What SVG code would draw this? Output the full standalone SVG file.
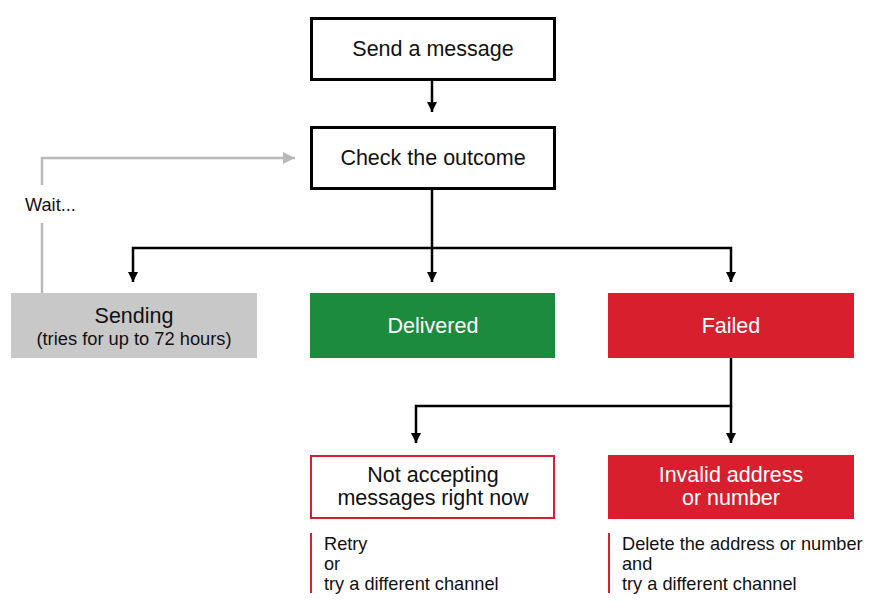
<svg xmlns="http://www.w3.org/2000/svg" width="873" height="603" viewBox="0 0 873 603">
<defs>
<marker id="ah" markerWidth="10" markerHeight="10" viewBox="0 0 10 10" refX="10" refY="5" orient="auto" markerUnits="userSpaceOnUse">
<path d="M0,0 L10,5 L0,10 z" fill="#000"/>
</marker>
<marker id="ahg" markerWidth="12" markerHeight="12" viewBox="0 0 10 10" refX="10" refY="5" orient="auto" markerUnits="userSpaceOnUse">
<path d="M0,0 L10,5 L0,10 z" fill="#b9b9b9"/>
</marker>
</defs>
<style>
text{font-family:"Liberation Sans",Arial,Helvetica,sans-serif;}
.lbl{font-size:21.5px;text-anchor:middle;fill:#111;}
.wl{font-size:21.5px;text-anchor:middle;fill:#fff;}
.sm{font-size:18.3px;text-anchor:middle;fill:#111;}
.note{font-size:18.2px;fill:#111;}
.conn{fill:none;stroke:#000;stroke-width:2.5;}
.gconn{fill:none;stroke:#b9b9b9;stroke-width:2.5;}
</style>
<rect width="873" height="603" fill="#fff"/>
<g id="connectors">
<line class="conn" x1="432" y1="80" x2="432" y2="112" marker-end="url(#ah)"/>
<path class="conn" d="M432,189 V248 H133 V282" marker-end="url(#ah)"/>
<line class="conn" x1="432" y1="248" x2="432" y2="282" marker-end="url(#ah)"/>
<path class="conn" d="M432,248 H731 V282" marker-end="url(#ah)"/>
<path class="conn" d="M731,358 V406 H416 V443" marker-end="url(#ah)"/>
<line class="conn" x1="731" y1="406" x2="731" y2="443" marker-end="url(#ah)"/>
<path class="gconn" d="M42,293 V223"/>
<path class="gconn" d="M42,185 V158 H295" marker-end="url(#ahg)"/>
<text x="25" y="211" class="note">Wait...</text>
</g>
<g id="send">
<rect x="311.5" y="18.5" width="243" height="61" fill="#fff" stroke="#000" stroke-width="3"/>
<text x="433" y="56" class="lbl">Send a message</text>
</g>
<g id="check">
<rect x="311.5" y="127.5" width="243" height="61" fill="#fff" stroke="#000" stroke-width="3"/>
<text x="433" y="165" class="lbl">Check the outcome</text>
</g>
<g id="sending">
<rect x="11" y="293" width="246" height="65" fill="#c8c8c8"/>
<text x="134" y="323" class="lbl">Sending</text>
<text x="134" y="345" class="sm">(tries for up to 72 hours)</text>
</g>
<g id="delivered">
<rect x="310" y="293" width="245" height="65" fill="#1d8b3e"/>
<text x="433" y="333" class="wl">Delivered</text>
</g>
<g id="failed">
<rect x="608" y="293" width="246" height="65" fill="#d81f2e"/>
<text x="731" y="333" class="wl">Failed</text>
</g>
<g id="notaccepting">
<rect x="311" y="456" width="243" height="62" fill="#fff" stroke="#d81f2e" stroke-width="2"/>
<text x="433" y="482" class="lbl">Not accepting</text>
<text x="433" y="505" class="lbl">messages right now</text>
</g>
<g id="invalid">
<rect x="608" y="455" width="246" height="64" fill="#d81f2e"/>
<text x="731" y="482" class="wl">Invalid address</text>
<text x="731" y="505" class="wl">or number</text>
</g>
<g id="note1">
<rect x="310" y="533" width="2" height="60" fill="#d81f2e"/>
<text x="324" y="550" class="note">Retry</text>
<text x="324" y="570" class="note">or</text>
<text x="324" y="590" class="note">try a different channel</text>
</g>
<g id="note2">
<rect x="608" y="533" width="2" height="60" fill="#d81f2e"/>
<text x="622" y="550" class="note">Delete the address or number</text>
<text x="622" y="570" class="note">and</text>
<text x="622" y="590" class="note">try a different channel</text>
</g>
</svg>
